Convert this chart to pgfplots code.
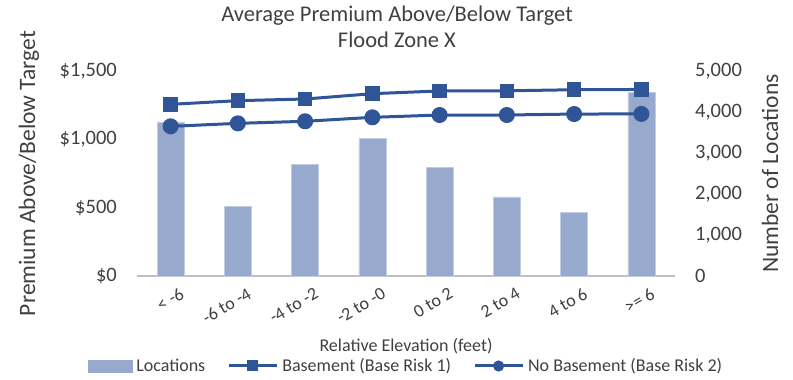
\documentclass[border=0pt]{standalone}
\usepackage{fontspec}
\setmainfont{Carlito}
\usepackage{pgfplots}
\pgfplotsset{compat=1.18}

\definecolor{barblue}{HTML}{97AACD}
\definecolor{lineblue}{HTML}{2F5597}
\definecolor{txt}{HTML}{404040}
\definecolor{axgray}{HTML}{BFBFBF}

\pgfplotstableread{
x loc
0 3760
1 1707
2 2724
3 3349
4 2642
5 1927
6 1553
7 4480
}\locations

\pgfplotstableread{
x base nobase
0 1256 1095
1 1283 1117
2 1295 1132
3 1334 1161
4 1354 1178
5 1355 1178
6 1363 1185
7 1365 1186
}\premium

\begin{document}
\begin{tikzpicture}
\pgfplotsset{
  common/.style={
    scale only axis, width=538bp, height=205bp,
    xmin=-0.5, xmax=7.5, ymin=0,
    tick style={draw=none},
    y axis line style={draw=none},
    ticklabel style={font=\fontsize{20.5bp}{24bp}\selectfont, text=txt, inner sep=0pt},
    label style={text=txt},
  }
}
% bars on the right axis
\begin{axis}[common, name=bars,
  axis y line*=right, axis x line*=bottom,
  x axis line style={draw=axgray, line width=1.5bp},
  ymax=5000,
  ytick={0,1000,2000,3000,4000,5000},
  yticklabels={{0},{1,000},{2,000},{3,000},{4,000},{5,000}},
  yticklabel style={anchor=west, xshift=20bp},
  xtick={0,...,7},
  xticklabels={{< -6},{-6 to -4},{-4 to -2},{-2 to -0},{0 to 2},{2 to 4},{4 to 6},{>= 6}},
  xticklabel style={font=\fontsize{18bp}{21bp}\selectfont, rotate=30, anchor=east, yshift=-20bp, xshift=2bp},
  ylabel={Number of Locations},
  ylabel style={at={(axis description cs:1.1766,0.5)}, anchor=center, rotate=0,
    font=\fontsize{23.5bp}{27bp}\selectfont},
  xlabel={Relative Elevation (feet)},
  xlabel style={at={(axis description cs:0.5,-0.3415)}, anchor=center,
    font=\fontsize{18bp}{21bp}\selectfont},
]
\addplot[ybar, bar width=27bp, fill=barblue, draw=barblue!60!white, line width=0.6bp] table[x=x, y=loc] {\locations};
\end{axis}

% lines on the left axis
\begin{axis}[common,
  axis y line*=left, axis x line=none,
  ymax=1500,
  ytick={0,500,1000,1500},
  yticklabels={{\$0},{\$500},{\$1,000},{\$1,500}},
  yticklabel style={anchor=east, xshift=-20bp},
  ylabel={Premium Above/Below Target},
  ylabel style={at={(axis description cs:-0.2007,0.5)}, anchor=center,
    font=\fontsize{23.5bp}{27bp}\selectfont},
  legend columns=3,
  legend style={at={(axis description cs:0.5,-0.439)}, anchor=center, draw=none, fill=none,
    font=\fontsize{18bp}{21bp}\selectfont, text=txt,
    /tikz/every even column/.append style={column sep=20bp},
    /tikz/every odd column/.append style={column sep=2bp}},
  legend image code/.code={%
    \draw[#1, mark size=4bp, mark repeat=2, mark phase=2] plot coordinates {(0bp,0bp) (24bp,0bp) (48bp,0bp)};},
]
\addlegendimage{legend image code/.code={\fill[barblue] (0bp,-6bp) rectangle (44bp,6bp);}}
\addlegendentry{Locations}
\addplot[lineblue, line width=3bp, mark=square*, mark size=5.8bp, mark options={solid}]
  table[x=x, y=base] {\premium};
\addlegendentry{Basement (Base Risk 1)}
\addplot[lineblue, line width=3bp, mark=*, mark size=6.5bp, mark options={solid}]
  table[x=x, y=nobase] {\premium};
\addlegendentry{No Basement (Base Risk 2)}
\end{axis}

\node[align=center, text=txt, font=\fontsize{22.5bp}{26bp}\selectfont]
  at ([shift={(260bp,249bp)}]bars.south west) {Average Premium Above/Below Target\\Flood Zone X};

\pgfresetboundingbox
\path[use as bounding box] ([shift={(-137bp,-104bp)}]bars.south west) rectangle ([shift={(656bp,276bp)}]bars.south west);
\end{tikzpicture}
\end{document}
